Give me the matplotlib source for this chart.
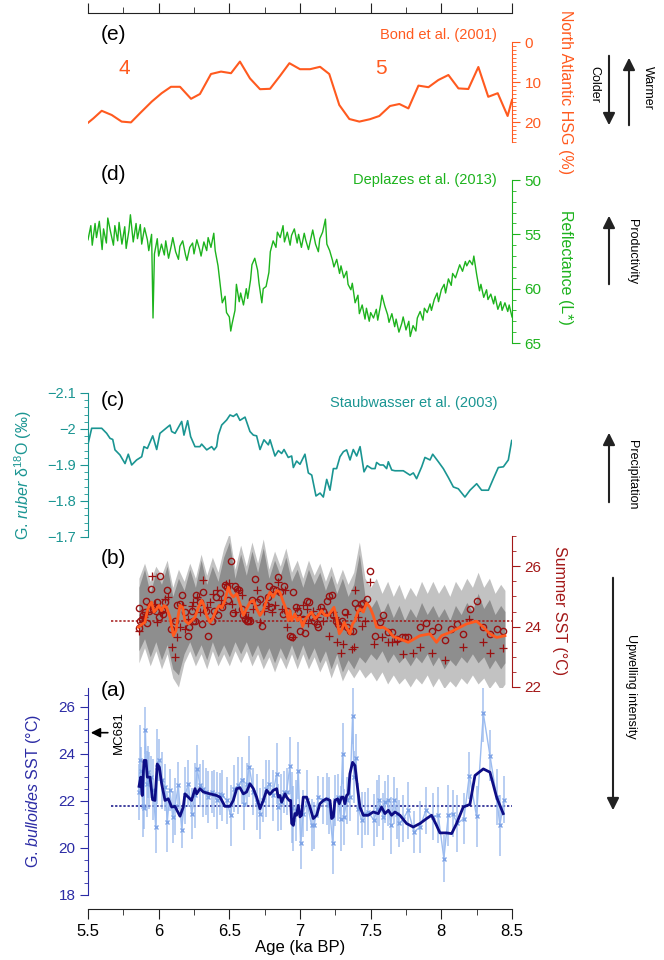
import numpy as np
import matplotlib
matplotlib.use('Agg')
import matplotlib.pyplot as plt
from matplotlib.ticker import MultipleLocator, FuncFormatter

plt.rcParams['font.family'] = ['Liberation Sans', 'DejaVu Sans']
plt.rcParams['mathtext.fontset'] = 'custom'
plt.rcParams['mathtext.rm'] = 'Liberation Sans'
plt.rcParams['mathtext.it'] = 'Liberation Sans:italic'

# ---------------- (e) Bond et al. 2001, North Atlantic HSG (%)
e_age = [5.50, 5.538, 5.597, 5.668, 5.738, 5.804, 5.868, 5.951, 6.021, 6.087,
         6.151, 6.229, 6.292, 6.370, 6.441, 6.512, 6.575, 6.646, 6.717, 6.788,
         6.858, 6.925, 7.00, 7.071, 7.142, 7.207, 7.278, 7.349, 7.42, 7.495,
         7.561, 7.637, 7.703, 7.767, 7.838, 7.909, 7.979, 8.05, 8.121, 8.191,
         8.262, 8.332, 8.399, 8.469, 8.50]
e_hsg = [20.2, 19.1, 17.2, 18.25, 19.9, 20.1, 17.8, 14.9, 12.8, 11.2,
         11.2, 14.2, 13.0, 8.0, 7.4, 7.8, 4.9, 9.1, 11.8, 11.7,
         8.5, 5.3, 6.8, 6.8, 6.2, 8.0, 15.75, 19.25, 19.9, 19.3,
         18.5, 16.0, 15.5, 16.6, 10.9, 11.3, 9.5, 8.25, 11.6, 11.75,
         6.25, 13.7, 12.8, 18.5, 14.5]

# ---------------- (d) Deplazes et al. 2013, reflectance L*
d_age = [5.50, 5.52, 5.53, 5.55, 5.56, 5.58, 5.60, 5.61, 5.63, 5.64,
         5.66, 5.68, 5.69, 5.71, 5.72, 5.74, 5.76, 5.77, 5.79, 5.80,
         5.82, 5.84, 5.85, 5.87, 5.88, 5.90, 5.92, 5.93, 5.95, 5.96,
         5.97, 5.99, 6.00, 6.02, 6.04, 6.05, 6.07, 6.09, 6.10, 6.12,
         6.14, 6.15, 6.17, 6.19, 6.20, 6.22, 6.24, 6.25, 6.27, 6.29,
         6.30, 6.32, 6.34, 6.35, 6.37, 6.39, 6.40, 6.42, 6.44, 6.45,
         6.47, 6.48, 6.50, 6.51, 6.52, 6.54, 6.55, 6.57, 6.58, 6.60,
         6.62, 6.63, 6.65, 6.66, 6.68, 6.70, 6.71, 6.73, 6.74, 6.76,
         6.78, 6.79, 6.81, 6.83, 6.84, 6.86, 6.88, 6.89, 6.91, 6.93,
         6.94, 6.96, 6.98, 6.99, 7.01, 7.03, 7.04, 7.06, 7.08, 7.09,
         7.11, 7.13, 7.14, 7.16, 7.18, 7.19, 7.21, 7.23, 7.24, 7.26,
         7.28, 7.29, 7.31, 7.33, 7.34, 7.36, 7.37, 7.39, 7.41, 7.42,
         7.44, 7.46, 7.47, 7.49, 7.50, 7.52, 7.54, 7.55, 7.57, 7.58,
         7.60, 7.62, 7.63, 7.65, 7.67, 7.68, 7.70, 7.72, 7.73, 7.75,
         7.77, 7.78, 7.80, 7.82, 7.83, 7.85, 7.87, 7.88, 7.90, 7.92,
         7.93, 7.95, 7.97, 7.98, 8.00, 8.02, 8.03, 8.05, 8.07, 8.08,
         8.10, 8.12, 8.13, 8.15, 8.17, 8.18, 8.20, 8.22, 8.23, 8.25,
         8.27, 8.28, 8.30, 8.32, 8.33, 8.35, 8.37, 8.38, 8.40, 8.42,
         8.43, 8.45, 8.47, 8.48, 8.50]
d_refl = [55.5, 54.2, 56.0, 54.0, 55.3, 53.8, 56.4, 54.5, 55.8, 53.5,
          54.8, 56.0, 54.2, 55.6, 53.9, 55.9, 54.3, 56.3, 54.6, 53.2,
          55.7, 54.0, 55.4, 54.1, 55.9, 54.4, 55.5, 56.5, 55.0, 62.7,
          56.8, 55.4, 57.0, 55.9, 56.9, 55.6, 57.2, 56.0, 55.3, 56.6,
          57.3, 56.1, 55.6, 56.9, 57.4, 56.2, 55.8, 56.8, 55.5, 56.4,
          57.0, 55.7, 56.5, 55.3, 56.2, 54.9, 56.5, 57.9, 60.2, 61.3,
          60.7, 62.2, 62.6, 63.9, 63.2, 62.0, 59.6, 61.2, 60.4, 61.5,
          60.0, 60.9, 59.2, 57.8, 57.2, 58.3, 59.5, 61.3, 60.0, 59.8,
          58.5, 56.6, 55.6, 56.2, 54.8, 55.3, 54.2, 55.7, 54.8, 56.0,
          55.1, 54.5, 55.8, 55.0, 56.2, 54.9, 55.5, 56.4, 55.2, 54.6,
          55.9, 56.6, 55.4, 54.8, 53.6, 55.9, 56.5, 57.4, 58.0, 57.3,
          58.6, 57.9, 59.0, 58.4, 59.6, 60.1, 59.5, 61.3, 60.6, 62.3,
          61.5, 62.8, 61.8, 63.0, 62.2, 62.7, 61.9, 62.9, 61.5, 60.6,
          61.6, 62.4, 63.1, 62.3, 63.5, 62.8, 64.0, 63.2, 62.6, 63.8,
          63.0, 64.4, 63.4, 63.9, 62.7, 62.1, 62.9, 61.8, 62.2, 61.4,
          62.0, 61.0, 60.4, 61.2, 60.1, 59.6, 60.4, 59.1, 59.7, 58.6,
          59.0, 58.2, 57.8, 58.4, 57.5, 57.9, 57.4, 57.8, 57.0, 58.7,
          60.2, 59.6, 60.8, 60.1, 61.0, 60.5, 61.4, 60.7, 61.9, 61.2,
          62.0, 61.3, 62.1, 61.5, 62.6]

# ---------------- (c) Staubwasser et al. 2003, G. ruber d18O
c_age = [5.5, 5.526, 5.597, 5.632, 5.656, 5.675, 5.691, 5.726, 5.762, 5.785,
         5.809, 5.844, 5.88, 5.896, 5.92, 5.958, 5.986, 6.009, 6.052, 6.08,
         6.092, 6.116, 6.163, 6.179, 6.205, 6.226, 6.257, 6.292, 6.304, 6.34,
         6.375, 6.392, 6.41, 6.422, 6.446, 6.481, 6.505, 6.528, 6.552, 6.575,
         6.611, 6.646, 6.67, 6.693, 6.717, 6.745, 6.776, 6.788, 6.823, 6.847,
         6.87, 6.887, 6.917, 6.941, 6.953, 6.976, 7.0, 7.035, 7.059, 7.083,
         7.113, 7.142, 7.165, 7.189, 7.212, 7.236, 7.259, 7.283, 7.307, 7.33,
         7.354, 7.377, 7.401, 7.425, 7.453, 7.476, 7.507, 7.531, 7.542, 7.566,
         7.59, 7.613, 7.625, 7.649, 7.672, 7.731, 7.778, 7.802, 7.825, 7.861,
         7.884, 7.92, 7.939, 7.979, 8.014, 8.05, 8.085, 8.12, 8.167, 8.203,
         8.25, 8.285, 8.333, 8.368, 8.403, 8.439, 8.474, 8.498]
c_d18o = [-1.958, -2.002, -2.002, -1.988, -1.974, -1.971, -1.942, -1.928, -1.904, -1.930,
          -1.900, -1.914, -1.923, -1.951, -1.946, -1.981, -1.943, -1.988, -2.002, -2.011,
          -1.993, -1.988, -2.021, -1.983, -2.023, -1.979, -1.951, -1.951, -1.958, -1.942,
          -1.951, -1.942, -1.951, -1.983, -2.011, -2.025, -2.039, -2.035, -2.042, -2.024,
          -2.033, -1.993, -1.983, -1.981, -1.943, -1.970, -1.956, -1.970, -1.925, -1.940,
          -1.932, -1.943, -1.921, -1.925, -1.893, -1.911, -1.902, -1.930, -1.878, -1.872,
          -1.814, -1.822, -1.811, -1.860, -1.830, -1.890, -1.890, -1.923, -1.937, -1.942,
          -1.914, -1.943, -1.925, -1.951, -1.881, -1.898, -1.890, -1.890, -1.907, -1.900,
          -1.900, -1.890, -1.909, -1.886, -1.884, -1.884, -1.872, -1.878, -1.862, -1.895,
          -1.921, -1.914, -1.930, -1.909, -1.890, -1.865, -1.839, -1.834, -1.811, -1.830,
          -1.848, -1.830, -1.830, -1.862, -1.893, -1.895, -1.914, -1.968]

# ---------------- (b) summer SST (two proxies, ensemble bands, smooth)
b_band_age = [5.86, 5.90, 5.94, 5.98, 6.02, 6.06, 6.10, 6.14, 6.18, 6.22,
              6.26, 6.30, 6.34, 6.38, 6.42, 6.46, 6.50, 6.54, 6.58, 6.62,
              6.66, 6.70, 6.74, 6.78, 6.82, 6.86, 6.90, 6.94, 6.98, 7.02,
              7.06, 7.10, 7.14, 7.18, 7.22, 7.26, 7.30, 7.34, 7.38, 7.42,
              7.46, 7.50, 7.54, 7.58, 7.62, 7.66, 7.70, 7.74, 7.78, 7.82,
              7.86, 7.90, 7.94, 7.98, 8.02, 8.06, 8.10, 8.14, 8.18, 8.22,
              8.26, 8.30, 8.34, 8.38, 8.42, 8.45]
b_outer_hi = [25.6, 26.1, 25.5, 26.0, 25.7, 26.2, 25.3, 25.9, 25.5, 26.1,
              25.6, 26.4, 25.7, 26.3, 25.8, 26.6, 27.1, 25.9, 26.7, 26.0,
              26.8, 26.1, 26.9, 25.9, 26.5, 26.0, 26.6, 25.8, 26.2, 25.6,
              26.2, 25.7, 26.1, 25.5, 26.0, 25.4, 25.9, 25.4, 25.8, 26.8,
              25.6, 25.3, 25.6, 25.1, 25.5, 25.0, 25.4, 24.9, 25.3, 25.0,
              25.5, 25.1, 25.5, 25.1, 25.4, 25.0, 25.5, 25.2, 25.6, 25.3,
              25.8, 25.3, 25.6, 25.1, 25.4, 25.2]
b_inner_hi = [25.3, 25.9, 25.1, 25.8, 25.4, 26.0, 25.0, 25.6, 25.2, 25.9,
              25.3, 26.2, 25.4, 26.0, 25.5, 26.3, 26.8, 25.6, 26.4, 25.7,
              26.5, 25.8, 26.6, 25.6, 26.2, 25.7, 26.3, 25.5, 25.9, 25.3,
              25.9, 25.4, 25.8, 25.2, 25.7, 25.1, 25.6, 25.0, 25.4, 26.4,
              25.0, 24.6, 24.9, 24.4, 24.8, 24.3, 24.7, 24.2, 24.6, 24.3,
              24.8, 24.4, 24.7, 24.3, 24.6, 24.2, 24.7, 24.4, 24.8, 24.5,
              25.1, 24.6, 24.9, 24.4, 24.7, 24.5]
b_inner_lo = [23.2, 23.6, 23.0, 23.5, 22.9, 23.4, 22.6, 22.4, 23.1, 23.5,
              23.0, 23.4, 22.9, 23.5, 23.0, 23.4, 23.0, 23.5, 23.1, 23.5,
              23.0, 23.4, 22.9, 23.3, 22.8, 23.3, 22.9, 23.4, 22.9, 23.4,
              22.9, 23.3, 22.8, 23.2, 22.6, 23.1, 22.5, 22.9, 22.6, 23.0,
              22.8, 23.1, 22.9, 23.2, 22.8, 23.1, 22.8, 23.0, 22.7, 23.0,
              22.8, 23.1, 22.7, 23.0, 22.6, 22.9, 22.7, 23.0, 22.8, 23.1,
              22.8, 23.0, 22.6, 22.9, 22.6, 22.8]
b_outer_lo = [22.8, 23.3, 22.7, 23.2, 22.6, 23.1, 22.3, 22.0, 22.8, 23.2,
              22.7, 23.1, 22.6, 23.2, 22.7, 23.1, 22.7, 23.2, 22.8, 23.2,
              22.7, 23.1, 22.6, 23.0, 22.5, 23.0, 22.6, 23.1, 22.6, 23.1,
              22.6, 23.0, 22.5, 22.9, 22.3, 22.8, 22.2, 22.6, 22.3, 22.6,
              22.3, 22.5, 22.2, 22.5, 22.1, 22.4, 22.1, 22.3, 22.0, 22.3,
              22.1, 22.4, 22.0, 22.3, 21.95, 22.2, 22.0, 22.3, 22.1, 22.4,
              22.1, 22.3, 21.95, 22.2, 21.9, 22.1]

b_circ_age = [5.861, 5.863, 5.868, 5.880, 5.891, 5.903, 5.910, 5.920, 5.934, 5.946,
              5.962, 5.979, 5.990, 6.005, 6.009, 6.021, 6.033, 6.047, 6.061, 6.085,
              6.115, 6.132, 6.151, 6.163, 6.186, 6.205, 6.217, 6.233, 6.245, 6.257,
              6.264, 6.292, 6.304, 6.316, 6.332, 6.351, 6.375, 6.391, 6.405, 6.422,
              6.434, 6.450, 6.469, 6.481, 6.493, 6.512, 6.528, 6.540, 6.556, 6.571,
              6.587, 6.599, 6.611, 6.622, 6.634, 6.646, 6.658, 6.681, 6.693, 6.717,
              6.733, 6.759, 6.776, 6.783, 6.795, 6.811, 6.830, 6.846, 6.858, 6.877,
              6.889, 6.905, 6.929, 6.941, 6.953, 6.969, 6.988, 7.000, 7.023, 7.035,
              7.047, 7.066, 7.082, 7.101, 7.118, 7.129, 7.148, 7.165, 7.188, 7.207,
              7.224, 7.236, 7.254, 7.271, 7.283, 7.294, 7.318, 7.335, 7.353, 7.372,
              7.389, 7.412, 7.431, 7.448, 7.471, 7.495, 7.530, 7.566, 7.589, 7.625,
              7.653, 7.688, 7.719, 7.742, 7.766, 7.849, 7.891, 7.931, 7.978, 8.025,
              8.068, 8.108, 8.155, 8.202, 8.249, 8.297, 8.344, 8.391, 8.438]
b_circ_sst = [24.62, 23.96, 24.20, 24.26, 24.37, 24.48, 24.84, 24.11, 24.53, 25.23,
              24.59, 24.51, 24.81, 24.31, 25.67, 24.56, 24.42, 24.81, 25.20, 23.92,
              24.20, 24.70, 24.76, 25.03, 24.48, 23.70, 23.98, 24.51, 24.18, 24.20,
              25.03, 24.81, 24.07, 25.14, 24.53, 23.70, 24.20, 24.51, 24.98, 24.37,
              25.11, 24.64, 25.37, 25.31, 24.87, 26.18, 24.44, 25.33, 25.26, 25.20,
              24.59, 24.37, 24.26, 24.20, 24.20, 24.20, 24.87, 25.59, 24.81, 24.92,
              24.02, 24.70, 24.98, 25.33, 24.64, 25.26, 25.20, 25.64, 25.14, 24.42,
              25.34, 24.53, 23.70, 23.64, 25.14, 24.64, 24.48, 23.87, 24.26, 23.78,
              24.84, 24.80, 24.31, 24.20, 24.09, 24.00, 24.64, 24.53, 24.84, 25.00,
              25.03, 24.37, 24.20, 24.09, 23.98, 24.20, 24.48, 23.98, 23.87, 23.87,
              24.79, 24.62, 24.76, 24.78, 24.92, 25.84, 23.70, 24.14, 24.37, 23.81,
              23.81, 23.59, 23.64, 23.64, 23.67, 24.00, 24.11, 23.87, 24.00, 23.56,
              23.92, 24.07, 23.76, 24.59, 24.84, 23.98, 23.76, 23.92, 23.84]

b_plus_age = [5.861, 5.880, 5.896, 5.915, 5.939, 5.950, 5.974, 5.986, 6.021, 6.045,
              6.064, 6.092, 6.115, 6.132, 6.151, 6.163, 6.186, 6.210, 6.233, 6.245,
              6.269, 6.292, 6.316, 6.339, 6.363, 6.387, 6.410, 6.438, 6.453, 6.474,
              6.500, 6.516, 6.540, 6.563, 6.587, 6.611, 6.634, 6.665, 6.693, 6.717,
              6.745, 6.776, 6.799, 6.823, 6.846, 6.870, 6.894, 6.910, 6.929, 6.953,
              6.976, 7.000, 7.023, 7.047, 7.059, 7.089, 7.118, 7.141, 7.165, 7.188,
              7.207, 7.231, 7.247, 7.264, 7.287, 7.306, 7.335, 7.365, 7.382, 7.389,
              7.412, 7.436, 7.459, 7.495, 7.523, 7.577, 7.625, 7.648, 7.684, 7.726,
              7.801, 7.849, 7.931, 8.025, 8.155, 8.198, 8.297, 8.344, 8.438]
b_plus_sst = [23.87, 24.14, 24.31, 24.48, 24.70, 25.67, 24.76, 24.14, 24.48, 24.92,
              24.98, 23.31, 22.98, 23.64, 23.98, 24.70, 23.92, 24.26, 24.67, 24.81,
              24.98, 24.48, 25.53, 24.64, 24.81, 25.09, 25.20, 24.87, 24.76, 25.42,
              25.44, 24.76, 24.48, 25.20, 25.03, 24.48, 24.31, 24.59, 25.20, 24.14,
              24.53, 24.67, 24.48, 24.70, 25.48, 24.59, 25.20, 23.98, 24.31, 23.64,
              24.62, 24.31, 24.70, 24.59, 24.11, 24.53, 24.31, 24.59, 24.20, 24.37,
              23.70, 24.48, 24.31, 23.48, 23.11, 23.42, 24.42, 23.26, 23.31, 25.20,
              24.31, 24.03, 24.20, 25.48, 23.44, 23.64, 23.48, 23.48, 23.53, 23.09,
              23.14, 23.31, 23.14, 22.89, 23.31, 24.26, 23.48, 23.14, 23.29]

b_smooth_age = [5.856, 5.880, 5.903, 5.920, 5.934, 5.950, 5.967, 5.986, 6.002, 6.021,
                6.038, 6.056, 6.080, 6.104, 6.123, 6.132, 6.151, 6.170, 6.186, 6.210,
                6.233, 6.257, 6.280, 6.304, 6.321, 6.339, 6.363, 6.382, 6.405, 6.429,
                6.446, 6.469, 6.493, 6.509, 6.528, 6.552, 6.575, 6.599, 6.622, 6.646,
                6.670, 6.693, 6.717, 6.740, 6.764, 6.787, 6.811, 6.835, 6.858, 6.882,
                6.901, 6.917, 6.929, 6.941, 6.953, 6.964, 6.981, 7.000, 7.019, 7.035,
                7.059, 7.082, 7.106, 7.129, 7.153, 7.177, 7.200, 7.224, 7.240, 7.259,
                7.278, 7.294, 7.313, 7.335, 7.353, 7.372, 7.389, 7.408, 7.424, 7.448,
                7.471, 7.495, 7.518, 7.542, 7.566, 7.589, 7.625, 7.660, 7.707, 7.766,
                7.849, 7.919, 7.966, 8.002, 8.061, 8.108, 8.179, 8.249, 8.297, 8.344,
                8.391, 8.450]
b_smooth_sst = [23.98, 24.07, 24.14, 24.53, 24.70, 24.81, 24.48, 24.59, 24.70, 24.53,
                24.70, 24.64, 24.31, 23.70, 23.87, 24.20, 24.70, 24.64, 24.20, 24.09,
                24.20, 24.31, 24.62, 24.87, 24.70, 24.37, 24.14, 24.26, 24.53, 24.70,
                24.62, 24.87, 25.31, 25.09, 24.98, 25.09, 24.76, 24.37, 24.59, 24.81,
                24.87, 24.59, 24.37, 24.53, 24.87, 25.14, 24.98, 25.20, 25.14, 24.81,
                24.59, 24.20, 24.53, 24.20, 24.31, 24.42, 24.20, 24.31, 24.00, 24.22,
                24.37, 24.48, 24.26, 24.37, 24.53, 24.37, 24.37, 24.53, 24.64, 24.31,
                23.76, 23.87, 24.14, 23.92, 23.76, 24.09, 24.20, 24.48, 24.59, 24.48,
                24.78, 24.64, 24.37, 23.98, 23.96, 23.98, 23.87, 23.67, 23.59, 23.48,
                23.70, 23.76, 23.48, 23.70, 23.81, 23.92, 24.09, 24.18, 23.98, 23.76,
                23.64, 23.70]
b_mean_sst = 24.2
mean_span = [5.66, 8.5]

# ---------------- (a) G. bulloides SST
a_age = [5.861, 5.868, 5.875, 5.887, 5.896, 5.906, 5.915, 5.922, 5.934, 5.946,
         5.962, 5.979, 5.990, 6.005, 6.021, 6.045, 6.061, 6.080, 6.099, 6.115,
         6.139, 6.163, 6.186, 6.210, 6.233, 6.257, 6.273, 6.292, 6.311, 6.332,
         6.351, 6.375, 6.391, 6.410, 6.434, 6.450, 6.481, 6.509, 6.533, 6.563,
         6.587, 6.604, 6.622, 6.641, 6.670, 6.693, 6.717, 6.736, 6.759, 6.783,
         6.806, 6.835, 6.846, 6.863, 6.887, 6.905, 6.929, 6.941, 6.953, 6.971,
         6.988, 7.004, 7.023, 7.047, 7.082, 7.101, 7.129, 7.165, 7.188, 7.207,
         7.231, 7.250, 7.271, 7.287, 7.301, 7.311, 7.330, 7.353, 7.372, 7.382,
         7.396, 7.412, 7.436, 7.459, 7.483, 7.523, 7.547, 7.561, 7.589, 7.601,
         7.625, 7.641, 7.665, 7.684, 7.702, 7.731, 7.766, 7.806, 7.849, 7.891,
         7.943, 7.978, 8.018, 8.049, 8.080, 8.113, 8.160, 8.198, 8.249, 8.297,
         8.344, 8.391, 8.414, 8.443]
a_sst = [22.38, 23.74, 23.29, 21.77, 21.71, 25.01, 22.73, 23.22, 22.87, 23.01,
         22.47, 20.89, 23.46, 23.74, 22.87, 22.59, 21.11, 22.45, 21.32, 21.77,
         22.66, 20.78, 22.23, 22.73, 21.46, 22.23, 23.36, 22.66, 22.52, 22.38,
         22.16, 22.38, 22.30, 22.02, 22.30, 22.23, 22.02, 21.39, 22.52, 22.66,
         22.87, 21.88, 22.73, 23.46, 22.38, 21.95, 21.46, 22.02, 22.52, 22.73,
         22.23, 23.15, 21.74, 21.95, 22.38, 22.38, 23.50, 21.71, 21.25, 21.60,
         23.29, 20.19, 21.46, 22.02, 20.96, 20.96, 22.16, 22.02, 22.09, 21.81,
         20.19, 22.02, 22.16, 21.25, 24.00, 21.32, 22.02, 22.16, 25.62, 23.01,
         23.83, 21.67, 21.18, 21.46, 21.53, 21.18, 21.67, 22.02, 21.32, 21.95,
         22.02, 20.96, 22.02, 21.46, 21.04, 21.25, 21.60, 20.68, 20.89, 21.60,
         21.32, 21.39, 19.55, 21.39, 21.46, 21.04, 21.25, 23.08, 21.35, 25.72,
         23.93, 22.16, 20.96, 22.05]
a_err = [1.2, 1.5, 1.0, 1.3, 0.9, 1.0, 1.4, 1.1, 1.2, 0.9,
         1.3, 1.1, 1.6, 0.9, 1.2, 1.0, 1.3, 0.9, 1.1, 1.2,
         1.0, 0.8, 1.2, 1.0, 1.1, 1.4, 1.0, 0.9, 1.2, 1.0,
         1.1, 0.9, 1.0, 1.2, 0.9, 1.1, 1.0, 1.3, 1.0, 1.2,
         1.0, 1.1, 0.9, 1.3, 1.0, 1.2, 1.1, 0.9, 1.2, 1.0,
         1.1, 1.3, 1.0, 1.2, 0.9, 1.0, 1.2, 1.5, 1.4, 1.3,
         1.2, 1.1, 1.0, 1.3, 1.1, 1.0, 0.9, 1.0, 1.1, 1.2,
         1.3, 1.1, 1.0, 1.4, 1.3, 1.2, 1.0, 1.0, 1.2, 1.1,
         1.0, 1.1, 1.2, 0.9, 1.0, 1.1, 1.2, 1.1, 1.0, 0.9,
         1.1, 1.2, 1.0, 1.1, 1.0, 1.0, 1.2, 0.9, 1.1, 1.0,
         1.0, 1.2, 1.0, 1.3, 1.0, 1.2, 1.1, 1.0, 1.3, 1.2,
         1.1, 1.2, 1.3, 1.0]
a_smooth_age = [5.861, 5.873, 5.884, 5.896, 5.910, 5.920, 5.939, 5.957, 5.974, 5.990,
                6.005, 6.021, 6.045, 6.068, 6.092, 6.115, 6.151, 6.174, 6.186, 6.210,
                6.233, 6.257, 6.269, 6.292, 6.316, 6.363, 6.410, 6.434, 6.469, 6.505,
                6.528, 6.552, 6.575, 6.599, 6.622, 6.646, 6.670, 6.693, 6.717, 6.740,
                6.764, 6.787, 6.811, 6.835, 6.846, 6.858, 6.870, 6.894, 6.905, 6.924,
                6.934, 6.941, 6.953, 6.964, 6.976, 6.988, 7.000, 7.011, 7.023, 7.047,
                7.070, 7.094, 7.118, 7.141, 7.165, 7.188, 7.212, 7.224, 7.236, 7.247,
                7.266, 7.278, 7.294, 7.306, 7.318, 7.330, 7.342, 7.353, 7.372, 7.389,
                7.405, 7.424, 7.448, 7.483, 7.518, 7.554, 7.577, 7.601, 7.625, 7.648,
                7.672, 7.707, 7.754, 7.801, 7.849, 7.896, 7.931, 7.966, 7.990, 8.037,
                8.073, 8.108, 8.155, 8.202, 8.238, 8.297, 8.344, 8.391, 8.438]
a_smooth_sst = [22.62, 23.01, 22.23, 23.72, 23.72, 23.01, 23.01, 22.05, 22.02, 23.57,
                23.43, 22.73, 22.02, 22.09, 21.74, 21.77, 21.35, 21.74, 22.30, 22.16,
                22.02, 22.52, 22.30, 22.52, 22.38, 22.30, 22.23, 22.16, 21.77, 21.77,
                22.02, 22.52, 22.56, 22.30, 22.38, 22.73, 22.52, 22.16, 21.67, 22.02,
                22.45, 22.28, 22.45, 22.52, 22.16, 22.23, 21.95, 22.30, 22.16, 22.02,
                22.02, 21.04, 20.96, 21.46, 21.39, 21.81, 21.32, 21.39, 22.16, 22.16,
                21.74, 21.25, 21.39, 21.88, 22.02, 22.09, 22.02, 21.25, 21.32, 22.02,
                22.09, 21.88, 22.16, 22.16, 21.88, 22.23, 22.30, 23.15, 23.64, 23.50,
                22.66, 21.74, 21.39, 21.39, 21.53, 21.46, 21.74, 21.46, 21.60, 21.39,
                21.53, 21.39, 21.04, 20.89, 21.04, 21.25, 21.39, 20.96, 20.64, 20.64,
                20.61, 21.04, 21.74, 21.85, 23.08, 23.36, 23.22, 22.16, 21.46]
a_mean_sst = 21.8
mc681_sst = 24.9

# colours
ORANGE = '#ff5a1f'
GREEN = '#1db31d'
TEAL = '#1a9592'
DKRED = '#a31818'
NAVY = '#0d0d85'
BLUEAX = '#2b2ba5'
LTBLUE = '#86aae8'

W, H = 664.0, 960.0
X0, X1 = 88, 512


def fx(px):
    return px / W


def fy(py):
    return 1 - py / H


def gfmt(v, pos):
    return ('%g' % v).replace('-', '\u2212')


fig = plt.figure(figsize=(W / 100, H / 100), dpi=100)

# shared age axis (top + bottom spines)
bg = fig.add_axes([fx(X0), fy(909), (X1 - X0) / W, (909 - 13) / H])
bg.set_xlim(5.5, 8.5)
bg.set_ylim(0, 1)
bg.patch.set_alpha(0)
bg.spines['left'].set_visible(False)
bg.spines['right'].set_visible(False)
bg.yaxis.set_visible(False)
bg.xaxis.set_major_locator(MultipleLocator(0.5))
bg.xaxis.set_minor_locator(MultipleLocator(0.25))
bg.xaxis.set_major_formatter(FuncFormatter(gfmt))
bg.tick_params(axis='x', which='both', top=True, bottom=True, labeltop=False,
               direction='out', labelsize=12, color='#222222')
bg.tick_params(axis='x', which='major', length=7)
bg.tick_params(axis='x', which='minor', length=4)
for s in ['top', 'bottom']:
    bg.spines[s].set_color('#222222')
bg.set_xlabel('Age (ka BP)', fontsize=12, labelpad=1)


def panel(top_px, bot_px, side, color, ylim, major, minor, labelsize=11):
    ax = fig.add_axes([fx(X0), fy(bot_px), (X1 - X0) / W, (bot_px - top_px) / H])
    ax.set_xlim(5.5, 8.5)
    ax.set_ylim(*ylim)
    ax.patch.set_alpha(0)
    for s in ['top', 'bottom', 'left', 'right']:
        ax.spines[s].set_visible(s == side)
    ax.spines[side].set_color(color)
    ax.xaxis.set_visible(False)
    if side == 'right':
        ax.yaxis.tick_right()
    else:
        ax.yaxis.tick_left()
    ax.yaxis.set_major_locator(MultipleLocator(major))
    ax.yaxis.set_minor_locator(MultipleLocator(minor))
    ax.yaxis.set_major_formatter(FuncFormatter(gfmt))
    ax.tick_params(axis='y', which='both', direction='out', colors=color,
                   labelsize=labelsize, pad=3)
    ax.tick_params(axis='y', which='major', length=6)
    ax.tick_params(axis='y', which='minor', length=3)
    return ax


# (e)
ax_e = panel(42, 142, 'right', ORANGE, (25, 0), 10, 1)
ax_e.plot(e_age, e_hsg, color=ORANGE, lw=1.5)

# (d)
ax_d = panel(180, 343, 'right', GREEN, (65, 50), 5, 1)
ax_d.plot(d_age, d_refl, color=GREEN, lw=1)

# (c)
ax_c = panel(393, 537, 'left', TEAL, (-1.7, -2.1), 0.1, 0.02, labelsize=10.5)
ax_c.plot(c_age, c_d18o, color=TEAL, lw=1.2)

# (b)
ax_b = panel(536, 687, 'right', DKRED, (22, 27), 2, 0.5)
ax_b.fill_between(b_band_age, b_outer_lo, b_outer_hi, color='#c2c2c2', lw=0)
ax_b.fill_between(b_band_age, b_inner_lo, b_inner_hi, color='#8e8e8e', lw=0)
ax_b.plot(mean_span, [b_mean_sst, b_mean_sst], color=DKRED, lw=1.1, ls=(0, (1.5, 1.2)))
ax_b.plot(b_circ_age, b_circ_sst, 'o', ms=4.5, mfc='none', mec='#9a1010', mew=1)
ax_b.plot(b_plus_age, b_plus_sst, '+', ms=5.5, color='#9a1010', mew=0.9)
ax_b.plot(b_smooth_age, b_smooth_sst, color=ORANGE, lw=2)

# (a)
ax_a = panel(688, 895, 'left', BLUEAX, (18, 26.8), 2, 0.5, labelsize=11)
ax_a.plot(mean_span, [a_mean_sst, a_mean_sst], color=NAVY, lw=1.1, ls=(0, (1.5, 1.2)))
ax_a.errorbar(a_age, a_sst, yerr=a_err, fmt='none', ecolor='#8fb2ea',
              elinewidth=1.1, capsize=0, alpha=0.8)
ax_a.plot(a_age, a_sst, 'x-', color='#9cbcf0', mec='#7fa4e6', ms=3.5, lw=1)
ax_a.plot(a_smooth_age, a_smooth_sst, color=NAVY, lw=2)
ax_a.annotate('', xy=(5.5, mc681_sst), xytext=(5.66, mc681_sst),
              arrowprops=dict(arrowstyle='-|>', color='black', lw=1.2, mutation_scale=14),
              annotation_clip=False)
ax_a.text(5.72, mc681_sst, 'MC681', rotation=90, ha='center', va='center', fontsize=9.5)

# panel letters and source labels
for lab, py in [('(e)', 35), ('(d)', 175), ('(c)', 400), ('(b)', 558), ('(a)', 690)]:
    fig.text(fx(113), fy(py), lab, ha='center', va='center', fontsize=15)
fig.text(fx(497), fy(35), 'Bond et al. (2001)', color=ORANGE, ha='right', va='center', fontsize=10.5)
fig.text(fx(124), fy(68), '4', color=ORANGE, ha='center', va='center', fontsize=15)
fig.text(fx(381), fy(68), '5', color=ORANGE, ha='center', va='center', fontsize=15)
fig.text(fx(497), fy(180), 'Deplazes et al. (2013)', color=GREEN, ha='right', va='center', fontsize=10.5)
fig.text(fx(498), fy(403), 'Staubwasser et al. (2003)', color=TEAL, ha='right', va='center', fontsize=10.5)

# axis titles
fig.text(fx(566), fy(92), 'North Atlantic HSG (%)', color=ORANGE, rotation=270,
         ha='center', va='center', fontsize=11.5)
fig.text(fx(566), fy(267), 'Reflectance (L*)', color=GREEN, rotation=270,
         ha='center', va='center', fontsize=11.5)
fig.text(fx(560), fy(611), 'Summer SST (°C)', color=DKRED, rotation=270,
         ha='center', va='center', fontsize=11.5)
fig.text(fx(23), fy(475), r'G. $\mathit{ruber}$ δ$^{18}$O (‰)', color=TEAL, rotation=90,
         ha='center', va='center', fontsize=11.5)
fig.text(fx(34), fy(791), r'G. $\mathit{bulloides}$ SST (°C)', color=BLUEAX, rotation=90,
         ha='center', va='center', fontsize=11.5)


# interpretation arrows on the right
def arrow(x, y_from, y_to):
    fig.add_artist(matplotlib.patches.FancyArrowPatch(
        (fx(x), fy(y_from)), (fx(x), fy(y_to)), transform=fig.transFigure,
        arrowstyle='-|>', mutation_scale=18, color='#222222', lw=1.5))


arrow(629, 128, 55)
arrow(609, 53, 128)
arrow(609, 287, 213)
arrow(609, 505, 430)
arrow(613, 575, 813)
for txt, x, py in [('Warmer', 648, 88), ('Colder', 594, 84), ('Productivity', 632, 252),
                   ('Precipitation', 632, 475), ('Upwelling intensity', 631, 686)]:
    fig.text(fx(x), fy(py), txt, rotation=270, ha='center', va='center', fontsize=9)

fig.savefig('out.png', dpi=100)
